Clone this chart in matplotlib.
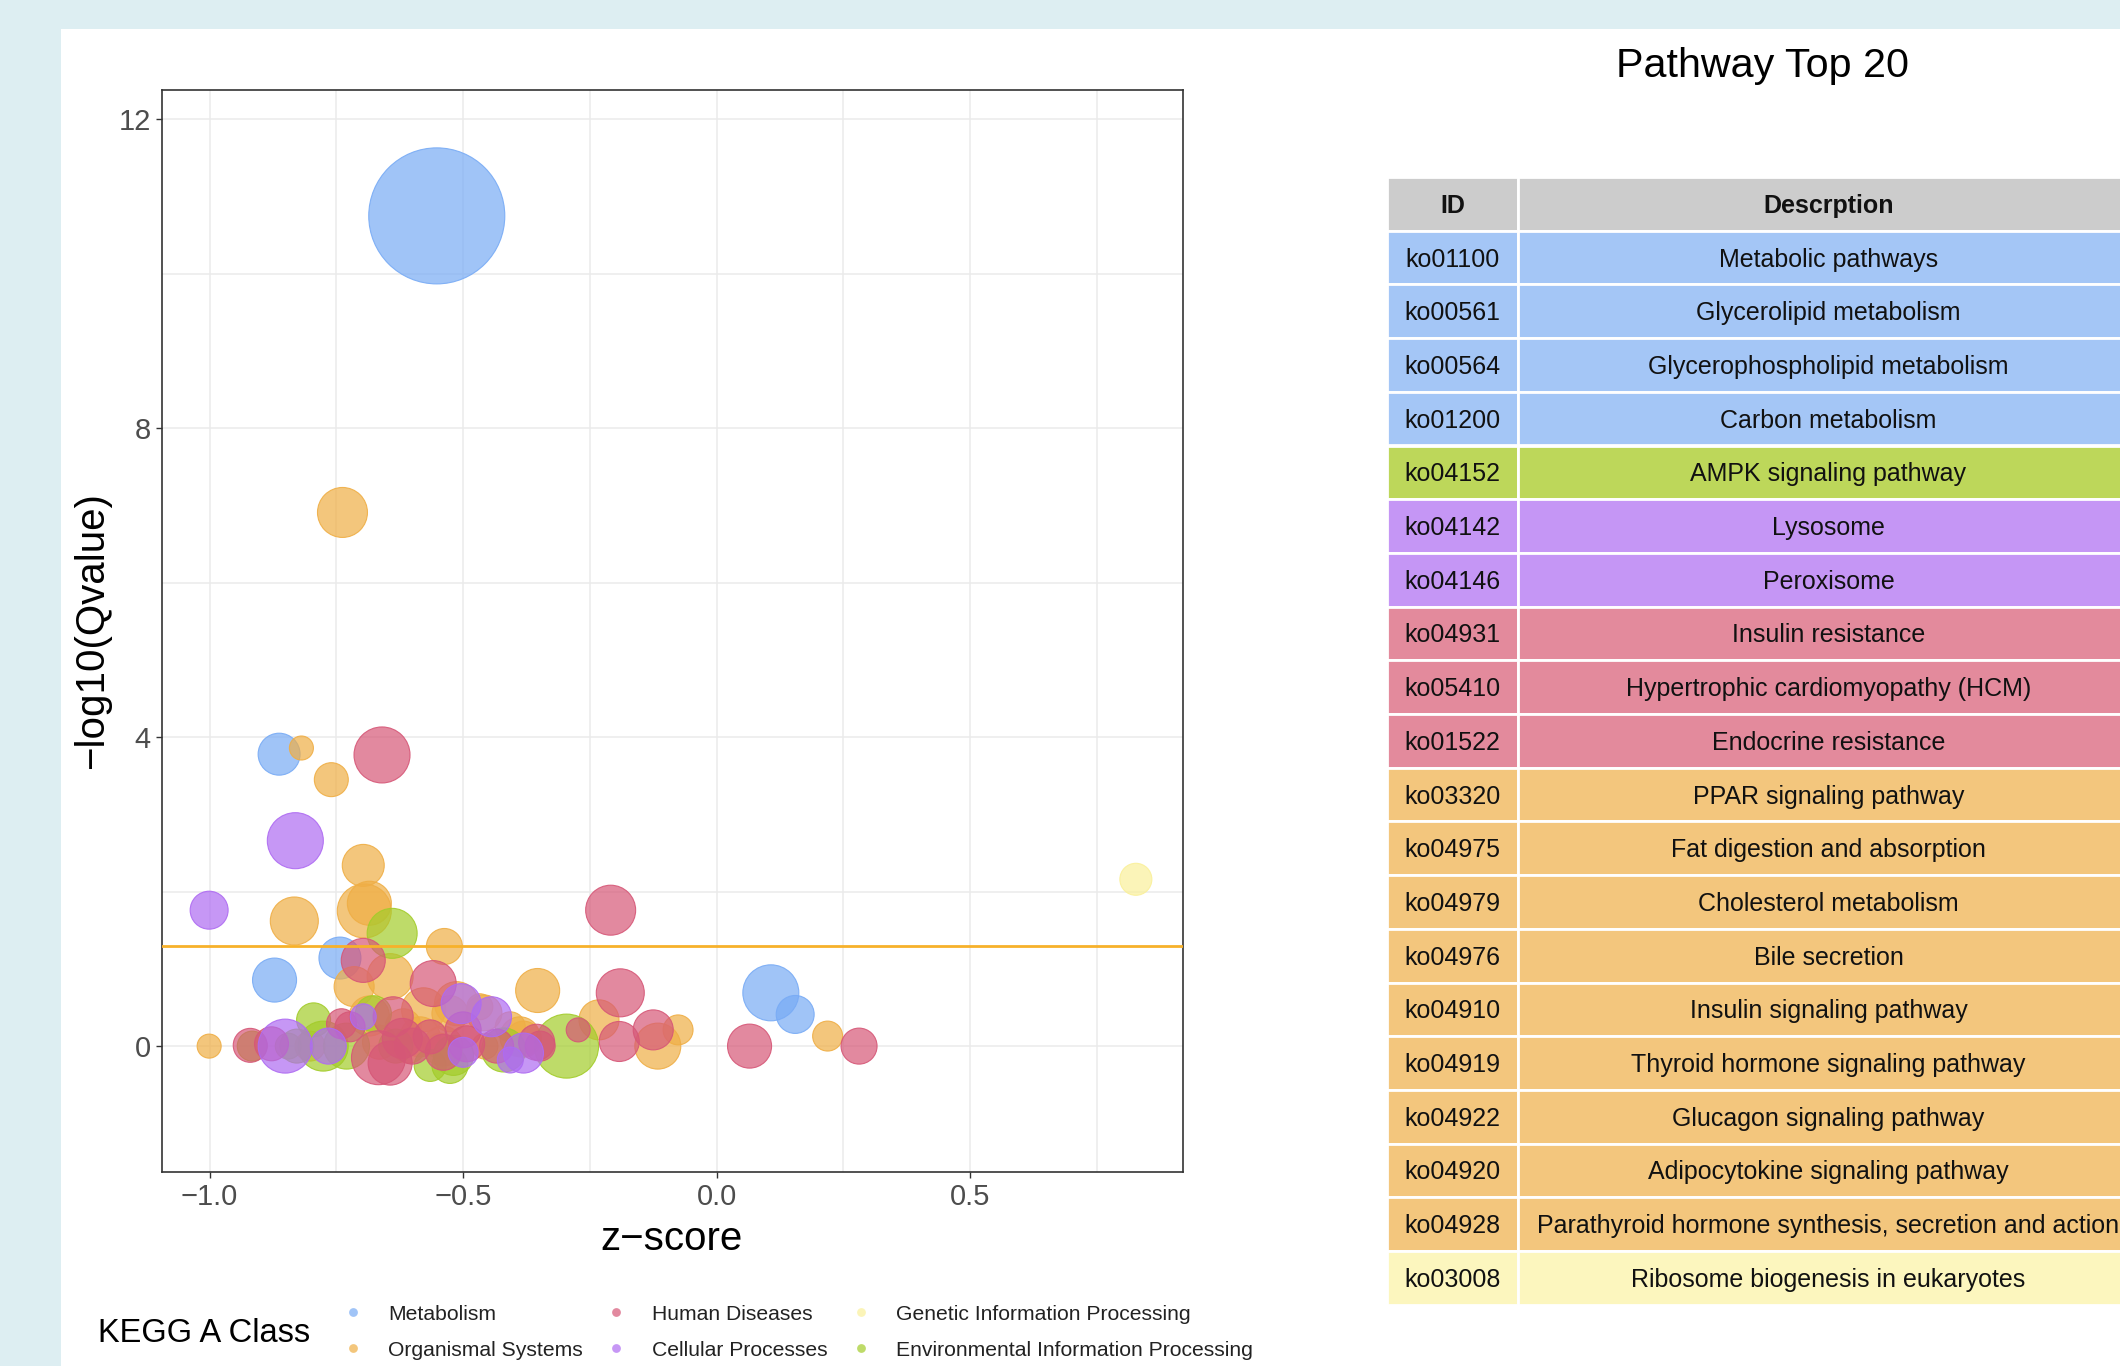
import matplotlib
matplotlib.use('Agg')
import matplotlib.pyplot as plt
from matplotlib.patches import Rectangle
from matplotlib.colors import to_rgba
import numpy as np

plt.rcParams['font.family'] = ['Liberation Sans', 'DejaVu Sans']

# KEGG A classes: bubble colour and table fill colour
classes = ['Metabolism', 'Organismal Systems', 'Human Diseases',
           'Cellular Processes', 'Genetic Information Processing',
           'Environmental Information Processing']
bubble_colors = {'Metabolism': '#78ABF5', 'Organismal Systems': '#EFAE45',
                 'Human Diseases': '#D65777', 'Cellular Processes': '#AE6BF2',
                 'Genetic Information Processing': '#FAF09A',
                 'Environmental Information Processing': '#A3CC2A'}
table_colors = {'Metabolism': '#A4C6F6', 'Organismal Systems': '#F3C67D',
                'Human Diseases': '#E38A9C', 'Cellular Processes': '#C596F5',
                'Genetic Information Processing': '#FCF6BE',
                'Environmental Information Processing': '#BDD75A'}

# bubble data: z-score, -log10(Qvalue), gene count, class
M, O, H, C, G, E = classes
z_score = [
    # Metabolism
    -0.552, -0.863, -0.743, -0.872, 0.107, 0.155,
    # Organismal Systems
    -0.738, -0.819, -0.760, -0.697, -0.833, -0.695, -0.685, -0.537, -0.715,
    -0.644, -0.353, 0.219, -1.001, -0.232, -0.116, -0.076, -0.802, -0.665,
    -0.607, -0.578, -0.513, -0.546, -0.388, -0.457, -0.685, -0.459, -0.540,
    -0.618, -0.585, -0.526, -0.467, -0.407, -0.381,
    # Environmental Information Processing
    -0.640, -0.916, -0.795, -0.845, -0.776, -0.730, -0.677, -0.633, -0.519,
    -0.296, -0.420, -0.828, -0.526, -0.565,
    # Human Diseases
    -0.660, -0.209, -0.697, -0.559, -0.190, 0.281, 0.065, -0.273, -0.192,
    -0.125, -0.920, -0.878, -0.740, -0.667, -0.638, -0.493, -0.539, -0.434,
    -0.348, -0.620, -0.600, -0.723, -0.644, -0.565, -0.500, -0.355,
    # Cellular Processes
    -0.831, -1.001, -0.851, -0.766, -0.504, -0.444, -0.381, -0.500,
    -0.697, -0.407,
    # Genetic Information Processing
    0.827,
]
neg_log10_q = [
    10.75, 3.78, 1.14, 0.855, 0.69, 0.41,
    6.91, 3.86, 3.45, 2.34, 1.62, 1.75, 1.85, 1.29, 0.77,
    0.90, 0.72, 0.13, 0.0, 0.34, 0.0, 0.21, 0.0, 0.05,
    0.0, 0.47, 0.55, 0.0, 0.12, 0.0, 0.39, 0.43, 0.0,
    0.25, 0.12, 0.42, 0.51, 0.25, 0.09,
    1.46, 0.0, 0.34, 0.0, 0.0, 0.0, 0.42, 0.0, -0.12,
    0.0, -0.05, 0.0, -0.25, -0.25,
    3.77, 1.76, 1.11, 0.81, 0.69, 0.0, 0.0, 0.21, 0.06,
    0.21, 0.01, 0.03, 0.29, -0.15, 0.38, 0.03, -0.08, 0.0,
    0.0, 0.10, 0.0, 0.25, -0.22, 0.12, 0.21, 0.05,
    2.66, 1.76, 0.0, 0.0, 0.55, 0.38, -0.09, -0.08,
    0.38, -0.18,
    2.16,
]
gene_count = [
    1156, 110, 110, 121, 196, 90,
    156, 36, 72, 110, 144, 182, 121, 81, 100,
    132, 121, 56, 36, 100, 132, 56, 56, 72,
    72, 121, 121, 42, 100, 42, 100, 81, 100,
    81, 100, 81, 42, 56, 81,
    156, 56, 72, 42, 156, 132, 81, 72, 100,
    256, 121, 72, 81, 64,
    196, 156, 121, 132, 144, 81, 121, 36, 100,
    100, 72, 72, 56, 182, 100, 81, 81, 72,
    56, 100, 81, 56, 121, 72, 81, 81,
    196, 90, 182, 81, 100, 100, 100, 56,
    42, 42,
    64,
]
a_class = [M] * 6 + [O] * 33 + [E] * 14 + [H] * 26 + [C] * 10 + [G]

# top 20 pathways table
pathway_id = ['ko01100', 'ko00561', 'ko00564', 'ko01200', 'ko04152', 'ko04142',
              'ko04146', 'ko04931', 'ko05410', 'ko01522', 'ko03320', 'ko04975',
              'ko04979', 'ko04976', 'ko04910', 'ko04919', 'ko04922', 'ko04920',
              'ko04928', 'ko03008']
pathway_desc = ['Metabolic pathways', 'Glycerolipid metabolism',
                'Glycerophospholipid metabolism', 'Carbon metabolism',
                'AMPK signaling pathway', 'Lysosome', 'Peroxisome',
                'Insulin resistance', 'Hypertrophic cardiomyopathy (HCM)',
                'Endocrine resistance', 'PPAR signaling pathway',
                'Fat digestion and absorption', 'Cholesterol metabolism',
                'Bile secretion', 'Insulin signaling pathway',
                'Thyroid hormone signaling pathway', 'Glucagon signaling pathway',
                'Adipocytokine signaling pathway',
                'Parathyroid hormone synthesis, secretion and action',
                'Ribosome biogenesis in eukaryotes']
pathway_class = [M, M, M, M, E, C, C, H, H, H, O, O, O, O, O, O, O, O, O, G]

q_cutoff = 0.05

W, Hpx = 2120, 1366
fig = plt.figure(figsize=(W / 100, Hpx / 100), dpi=100)
fig.patch.set_facecolor('#DDEEF2')
fig.add_artist(Rectangle((61 / W, 0), 1, (Hpx - 29) / Hpx, transform=fig.transFigure,
                         facecolor='white', edgecolor='none', zorder=-1))

# bubble plot
ax = fig.add_axes([162 / W, (Hpx - 1172) / Hpx, (1183 - 162) / W, (1172 - 90) / Hpx])
face = [to_rgba(bubble_colors[c], 0.7) for c in a_class]
edge = [to_rgba(bubble_colors[c], 0.9) for c in a_class]
ax.scatter(z_score, neg_log10_q, s=np.array(gene_count) * 8.3,
           facecolors=face, edgecolors=edge, linewidths=0.8, zorder=2)
ax.axhline(-np.log10(q_cutoff), color='#F7B12A', lw=2, zorder=3)

ax.set_xlim(-1.094, 0.92)
ax.set_ylim(-1.63, 12.38)
xt = [-1.0, -0.5, 0.0, 0.5]
ax.set_xticks(xt)
ax.set_xticklabels([f'{v:.1f}'.replace('-', '\u2212') for v in xt])
ax.set_xticks([-0.75, -0.25, 0.25, 0.75], minor=True)
ax.set_yticks([0, 4, 8, 12])
ax.set_yticks([2, 6, 10], minor=True)
ax.grid(which='both', color='#EBEBEB', lw=1.1)
ax.set_axisbelow(True)
ax.tick_params(which='minor', length=0)
ax.tick_params(which='major', length=4, width=1, color='#333333',
               labelsize=21, labelcolor='#4D4D4D', pad=4)
for sp in ax.spines.values():
    sp.set_color('#333333')
    sp.set_linewidth(1.2)

# overlay in pixel units for labels, legend and table
ov = fig.add_axes([0, 0, 1, 1], facecolor='none')
ov.set_xlim(0, W)
ov.set_ylim(Hpx, 0)
ov.axis('off')

ov.text(672, 1250, 'z\u2212score', fontsize=29, ha='center', va='baseline')
ov.text(92, 631, '\u2212log10(Qvalue)', fontsize=29, rotation=90,
        ha='center', va='center')

# legend
ov.text(98, 1341.5, 'KEGG A Class', fontsize=23.5, ha='left', va='baseline')
dot_x = [353, 616, 861]
txt_x = [388, 652, 896]
row_base = [1320, 1356]
for k, cls in enumerate(classes):
    col, row = k // 2, k % 2
    ov.scatter(dot_x[col], row_base[row] - 8.5, s=40,
               color=to_rgba(bubble_colors[cls], 0.7), linewidths=0)
    ov.text(txt_x[col], row_base[row], cls, fontsize=15.2, color='#222222',
            ha='left', va='baseline')

# table
ov.text(1762, 77, 'Pathway Top 20', fontsize=29.7, ha='center', va='baseline')
x_id0, x_id1, x_desc1 = 1387, 1518, 2139
top, row_h = 177, 53.7
rows = [('ID', 'Descrption', '#CCCCCC')] + [
    (pid, desc, table_colors[cls])
    for pid, desc, cls in zip(pathway_id, pathway_desc, pathway_class)]
for i, (pid, desc, fill) in enumerate(rows):
    y0 = top + i * row_h
    for xa, xb in [(x_id0, x_id1), (x_id1, x_desc1 + 40)]:
        ov.add_patch(Rectangle((xa, y0), xb - xa, row_h, facecolor=fill,
                               edgecolor='white', lw=2))
    weight = 'bold' if i == 0 else 'normal'
    base = y0 + row_h / 2 + 9
    ov.text((x_id0 + x_id1) / 2, base, pid, fontsize=18, weight=weight,
            color='#111111', ha='center', va='baseline')
    ov.text((x_id1 + x_desc1) / 2, base, desc, fontsize=18, weight=weight,
            color='#111111', ha='center', va='baseline')

fig.savefig('out.png', dpi=100, facecolor=fig.get_facecolor())
